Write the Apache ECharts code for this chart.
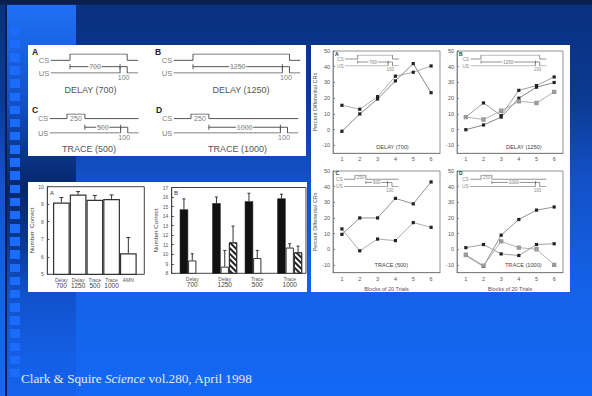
<!DOCTYPE html>
<html><head><meta charset="utf-8">
<script src="https://cdn.jsdelivr.net/npm/echarts@6/dist/echarts.min.js"></script>
<style>
html,body{margin:0;padding:0;}
body{width:592px;height:396px;overflow:hidden;position:relative;
 background:linear-gradient(to bottom,#0b1e4c 0px,#0b1e4c 4px,#0a3080 5px,#0b3a92 100px,#1350c6 175px,#1462e8 290px,#1468f4 396px);}
.abs{position:absolute;}
#col{left:7px;top:5px;width:69px;height:391px;
 background:linear-gradient(to bottom,#1f6ff4 0px,#1a64e4 40px,#1250c4 100px,#0a3586 150px,#06266a 185px,#0a3a96 240px,#1152cc 290px,#145ee4 350px,#1662ee 391px);}
#vline{left:5px;top:5px;width:1.5px;height:391px;background:#081d55;}
.sq{position:absolute;left:10px;width:10px;height:8.5px;background:#1b6cfb;}
.panel{position:absolute;background:#fff;}
#c{position:absolute;left:0;top:0;width:592px;height:396px;}
</style>
</head><body>
<div id="col" class="abs"></div>
<div id="vline" class="abs"></div>
<div id="sqs"></div>
<div class="panel" style="left:28px;top:45px;width:278px;height:111px;"></div>
<div class="panel" style="left:28px;top:181.5px;width:279px;height:110.5px;"></div>
<div class="panel" style="left:310.5px;top:45px;width:259.5px;height:247px;"></div>
<div id="c"></div>
<script>
// ================= DATA =================
// timing diagrams (ms)
const timingNames = ['DELAY (700)', 'DELAY (1250)', 'TRACE (500)', 'TRACE (1000)'];
const timingLetters = ['A', 'B', 'C', 'D'];
const csDuration = [800, 1350, 250, 250];
const usOnset = [700, 1250, 750, 1250];
const usDuration = [100, 100, 100, 100];
const intervalStart = [0, 0, 250, 250];
const intervalLabels = ['700', '1250', '500', '1000'];
const csPulseLabels = ['', '', '250', '250'];
const usPulseLabel = '100';

// bar chart A
const barACategories = ['Delay\n700', 'Delay\n1250', 'Trace\n500', 'Trace\n1000', 'AMN'];
const barAValues = [9.1, 9.55, 9.25, 9.3, 6.2];
const barAErrorTops = [9.38, 9.72, 9.5, 9.53, 7.1];

// bar chart B
const barBCategories = ['Delay\n700', 'Delay\n1250', 'Trace\n500', 'Trace\n1000'];
const barBBlack = [14.7, 15.35, 15.55, 15.85];
const barBBlackErr = [15.8, 16.0, 16.4, 16.3];
const barBWhite = [9.35, 8.7, 9.6, 10.7];
const barBWhiteErr = [10.05, 10.4, 10.4, 11.1];
const barBHatched = [null, 11.25, null, 10.2];
const barBHatchedErr = [null, 12.95, null, 10.85];

// line charts
const blocks = ['1', '2', '3', '4', '5', '6'];
const delay700A = [-1, 10, 19.5, 31, 42, 23.5];
const delay700B = [15.5, 13, 21, 34, 36.5, 40.5];
const delay1250A = [0, 3, 8, 20, 27, 30];
const delay1250B = [8, 17, 9, 25, 28, 33.5];
const delay1250C = [8, 6.5, 12, 18, 17, 24];
const trace500A = [9.5, 20, 20, 32.5, 29, 43];
const trace500B = [13, -1, 6.5, 5.5, 17, 14];
const trace1000A = [-4, -11, 9, 19, 25, 27];
const trace1000B = [1, 3, -3, -4, 3, 3.5];
const trace1000C = [-3.5, -10.5, 5, 1, 0, -10];

const caption = 'Clark & Squire {i|Science} vol.280, April 1998';

// ================= BACKGROUND SQUARES =================
(function(){
  const box = document.getElementById('sqs');
  for (let k = 0; k < 27; k++) {
    const d = document.createElement('div');
    d.className = 'sq';
    d.style.top = (26.7 + 13.16 * k) + 'px';
    box.appendChild(d);
  }
})();

// ================= CHART =================
const FONT = '"Liberation Sans", Arial, sans-serif';
const grids = [], xAxes = [], yAxes = [], series = [], texts = [];

function addGrid(g, x, y) {
  const i = grids.length;
  g.outerBoundsMode = 'none';
  grids.push(g);
  x.gridIndex = i; y.gridIndex = i;
  xAxes.push(x); yAxes.push(y);
  return i;
}

function timing(d, L) {
  const end = usOnset[d] + usDuration[d] + L.tail;
  const min = -L.lead;
  const gi = addGrid(
    {left: L.x0 - L.lead * L.k, top: L.top, width: (L.lead + end) * L.k, height: L.bottom - L.top},
    {type: 'value', min: min, max: end, show: false},
    {type: 'value', min: 0, max: L.csHigh, show: false});
  const b = L.csBase, h = L.csHigh, cd = csDuration[d], uo = usOnset[d], ud = usDuration[d];
  const ls = {color: L.color, width: L.lw};
  const common = {xAxisIndex: gi, yAxisIndex: gi, silent: true, animation: false};
  series.push(Object.assign({type: 'line', symbol: 'none', lineStyle: ls,
    data: [[min, b], [0, b], [0, h], [cd, h], [cd, b], [end, b]]}, common));
  series.push(Object.assign({type: 'line', symbol: 'none', lineStyle: ls,
    data: [[min, 0], [uo, 0], [uo, 1], [uo + ud, 1], [uo + ud, 0], [end, 0]]}, common));
  series.push(Object.assign({type: 'line', symbol: 'rect', symbolSize: [L.lw, L.tick],
    itemStyle: {color: L.color}, lineStyle: ls,
    data: [[intervalStart[d], 1], [uo, 1]]}, common));
  const base = {color: L.text, fontSize: L.font, fontFamily: FONT};
  const lab = [
    {value: [min, b], label: Object.assign({}, base, {formatter: 'CS', position: 'left', distance: 1.5, fontSize: L.font2})},
    {value: [min, 0], label: Object.assign({}, base, {formatter: 'US', position: 'left', distance: 1.5, fontSize: L.font2})},
    {value: [(intervalStart[d] + uo) / 2, 1], label: Object.assign({}, base, {formatter: intervalLabels[d], position: 'inside',
      backgroundColor: '#fff', padding: [0, 1]})},
    {value: [uo + ud / 2, 0], label: Object.assign({}, base, {formatter: usPulseLabel, position: 'bottom', distance: 1})}
  ];
  if (csPulseLabels[d]) lab.push({value: [cd / 2, (b + h) / 2 - L.pulseShift],
    label: Object.assign({}, base, {formatter: csPulseLabels[d], position: 'inside'})});
  series.push(Object.assign({type: 'scatter', symbolSize: 0, z: 5,
    itemStyle: {color: L.text},
    label: {show: true, fontSize: L.font, color: L.text, fontFamily: FONT},
    data: lab}, common));
}

// top-left panel diagrams
const tlBase = {k: 0.0715, tail: 150, lw: 1, color: '#555', text: '#555', font: 7, font2: 7.5, tick: 5, pulseShift: 0.35};
timing(0, Object.assign({}, tlBase, {x0: 70, lead: 270, top: 54, bottom: 73, csBase: 2, csHigh: 3}));
timing(1, Object.assign({}, tlBase, {x0: 193, lead: 270, top: 54, bottom: 73, csBase: 2, csHigh: 3}));
timing(2, Object.assign({}, tlBase, {x0: 67, lead: 240, top: 114, bottom: 133, csBase: 2.5, csHigh: 3.3}));
timing(3, Object.assign({}, tlBase, {x0: 191, lead: 240, top: 114, bottom: 133, csBase: 2.5, csHigh: 3.3}));

// ---------- line charts ----------
function lineChart(L, list, yName, xName) {
  const gi = addGrid(
    {left: L.left, top: L.top, width: L.width, height: L.height, show: true, borderColor: '#777', borderWidth: 0.8, backgroundColor: 'transparent'},
    {type: 'category', data: blocks, boundaryGap: true,
     axisLine: {onZero: false, lineStyle: {color: '#777', width: 0.8}},
     axisTick: {alignWithLabel: true, inside: true, length: 2, lineStyle: {color: '#777', width: 0.8}},
     axisLabel: {fontSize: 5.5, color: '#555', margin: 3, fontFamily: FONT},
     name: xName || '', nameLocation: 'middle', nameGap: 13.5,
     nameTextStyle: {fontSize: 5.5, color: '#555', fontFamily: FONT}},
    {type: 'value', min: -15, max: 50, splitNumber: 6, splitLine: {show: false},
     axisLine: {show: true, onZero: false, lineStyle: {color: '#777', width: 0.8}},
     axisTick: {show: true, inside: true, length: 2, lineStyle: {color: '#777', width: 0.8}},
     axisLabel: {fontSize: 5.5, color: '#555', margin: 3, showMinLabel: false, fontFamily: FONT},
     name: yName || '', nameLocation: 'middle', nameGap: 15.5, nameRotate: 90,
     nameTextStyle: {fontSize: 5.5, color: '#555', fontFamily: FONT}});
  list.forEach(s => series.push({type: 'line', xAxisIndex: gi, yAxisIndex: gi, data: s.data,
    symbol: s.light ? 'emptyRect' : 'rect', symbolSize: s.light ? 2.4 : 3.2, animation: false, silent: true,
    lineStyle: {color: s.light ? '#a0a0a0' : s.line, width: 0.8},
    itemStyle: {color: s.light ? '#999' : '#222', borderColor: s.light ? '#999' : '#222', borderWidth: s.light ? 0.6 : 0}}));
}
lineChart({left: 333, top: 51, width: 107, height: 102.3},
  [{data: delay700A, line: '#666'}, {data: delay700B, line: '#999'}], 'Percent Differential CRs');
lineChart({left: 457, top: 51, width: 106, height: 102.3},
  [{data: delay1250A, line: '#666'}, {data: delay1250B, line: '#888'}, {data: delay1250C, light: true}]);
lineChart({left: 333, top: 171, width: 107, height: 101.7},
  [{data: trace500A, line: '#777'}, {data: trace500B, line: '#999'}], 'Percent Differential CRs', 'Blocks of 20 Trials');
lineChart({left: 457, top: 171, width: 106, height: 101.7},
  [{data: trace1000A, line: '#777'}, {data: trace1000B, line: '#888'}, {data: trace1000C, light: true}], '', 'Blocks of 20 Trials');

// inset diagrams in line charts
const inBase = {k: 0.0435, tail: 150, lw: 0.7, color: '#666', text: '#666', font: 4.5, font2: 4.8, tick: 3, csBase: 1.75, csHigh: 2.75, pulseShift: 0.1};
timing(0, Object.assign({}, inBase, {x0: 357.7, lead: 290, top: 55, bottom: 66}));
timing(1, Object.assign({}, inBase, {x0: 481, lead: 240, top: 55, bottom: 66}));
timing(2, Object.assign({}, inBase, {x0: 355, lead: 250, top: 175, bottom: 186.7}));
timing(3, Object.assign({}, inBase, {x0: 481, lead: 250, top: 175, bottom: 186.7}));

// ---------- bar charts ----------
function labelFmt(v) {
  const p = v.split('\n');
  return p.length > 1 ? '{a|' + p[0] + '}\n{b|' + p[1] + '}' : '{a|' + p[0] + '}';
}
const barRich = {a: {fontSize: 5, color: '#555', lineHeight: 5.5, fontFamily: FONT}, b: {fontSize: 6.5, color: '#444', lineHeight: 7, fontFamily: FONT}};

function frame(L, min, max, name, gap) {
  addGrid({left: L.left, top: L.top, width: L.width, height: L.height, show: true, borderColor: '#444', borderWidth: 1, backgroundColor: 'transparent'},
    {type: 'value', min: 0, max: 1, show: false},
    {type: 'value', min: min, max: max, interval: 1, splitLine: {show: false},
     axisLine: {show: true, lineStyle: {color: '#444', width: 1}},
     axisTick: {show: true, inside: true, length: 2, lineStyle: {color: '#444'}},
     axisLabel: {fontSize: 5, color: '#555', margin: 3.5, fontFamily: FONT},
     name: name, nameLocation: 'middle', nameGap: gap, nameRotate: 90,
     nameTextStyle: {fontSize: 6.2, color: '#444', fontFamily: FONT}});
}
function errSeries(gi, vals, tops, offset, cap) {
  const data = [];
  vals.forEach((v, i) => { if (v != null) data.push([i, v, tops[i]]); });
  series.push({type: 'custom', xAxisIndex: gi, yAxisIndex: gi, data: data, silent: true, animation: false, z: 4,
    renderItem: function (params, api) {
      const p0 = api.coord([api.value(0), api.value(1)]);
      const p1 = api.coord([api.value(0), api.value(2)]);
      const cx = p0[0] + offset;
      return {type: 'group', children: [
        {type: 'line', shape: {x1: cx, y1: p0[1], x2: cx, y2: p1[1]}, style: {stroke: '#333', lineWidth: 1}},
        {type: 'line', shape: {x1: cx - cap, y1: p1[1], x2: cx + cap, y2: p1[1]}, style: {stroke: '#333', lineWidth: 1}}
      ]};
    }});
}

// chart A
frame({left: 47.3, top: 186.7, width: 97, height: 87.6}, 5, 10, 'Number  Correct', 12.5);
const gBA = addGrid({left: 53, top: 186.7, width: 83.7, height: 87.6},
  {type: 'category', data: barACategories, axisLine: {show: false}, axisTick: {show: false},
   axisLabel: {margin: 2.5, interval: 0, formatter: labelFmt, rich: barRich}},
  {type: 'value', min: 5, max: 10, show: false});
series.push({type: 'bar', xAxisIndex: gBA, yAxisIndex: gBA, data: barAValues, barCategoryGap: '0%', clip: true,
  silent: true, animation: false, itemStyle: {color: '#fff', borderColor: '#333', borderWidth: 1.2}});
errSeries(gBA, barAValues, barAErrorTops, 0, 2);

// chart B
frame({left: 171.7, top: 187.5, width: 134.3, height: 85.8}, 8, 17, 'Number Correct', 13);
const gBB = addGrid({left: 176, top: 187.5, width: 130, height: 85.8},
  {type: 'category', data: barBCategories, axisLine: {show: false}, axisTick: {show: false},
   axisLabel: {margin: 2.5, interval: 0, formatter: labelFmt, rich: barRich}},
  {type: 'value', min: 8, max: 17, show: false});
const BW = 8.3;
series.push({type: 'bar', xAxisIndex: gBB, yAxisIndex: gBB, data: barBBlack, barWidth: BW, barGap: '0%', clip: true,
  silent: true, animation: false, itemStyle: {color: '#111', borderColor: '#111', borderWidth: 0.5}});
series.push({type: 'bar', xAxisIndex: gBB, yAxisIndex: gBB, data: barBWhite, barWidth: BW, barGap: '0%', clip: true,
  silent: true, animation: false, itemStyle: {color: '#fff', borderColor: '#333', borderWidth: 1}});
series.push({type: 'bar', xAxisIndex: gBB, yAxisIndex: gBB, data: barBHatched, barWidth: BW, barGap: '0%', clip: true,
  silent: true, animation: false, itemStyle: {color: '#fff', borderColor: '#333', borderWidth: 1,
    decal: {symbol: 'rect', symbolSize: 1, color: '#222', dashArrayX: [1, 0], dashArrayY: [1.4, 1.8], rotation: Math.PI / 4}}});
errSeries(gBB, barBBlack, barBBlackErr, -BW, 1.5);
errSeries(gBB, barBWhite, barBWhiteErr, 0, 1.5);
errSeries(gBB, barBHatched, barBHatchedErr, BW, 1.5);

// ---------- free texts ----------
function txt(t, x, y, size, color, align, weight) {
  texts.push({type: 'text', x: x, y: y, z: 10, silent: true,
    style: {text: t, fontSize: size, fill: color, fontFamily: FONT, align: align || 'center', verticalAlign: 'middle', fontWeight: weight || 'normal'}});
}
// top-left panel
[[32, 52], [155, 52], [32, 110], [156, 110]].forEach((p, i) => txt(timingLetters[i], p[0], p[1], 8.5, '#222', 'left', 'bold'));
[[90.5, 90], [241, 90], [89, 149], [237.5, 149]].forEach((p, i) => txt(timingNames[i], p[0], p[1], 9, '#555'));
// bar charts
txt('A', 50, 193, 6, '#333', 'left');
txt('B', 174, 193, 6, '#333', 'left');
// line charts
[[335, 53.5], [459, 53.5], [335.5, 172.8], [459, 172.8]].forEach((p, i) => txt(timingLetters[i], p[0], p[1], 5, '#333', 'left', 'bold'));
[[392.5, 146.7], [523.8, 146.7], [391.3, 265], [523.3, 265]].forEach((p, i) => txt(timingNames[i], p[0], p[1], 5.6, '#444'));

const chart = echarts.init(document.getElementById('c'), null, {renderer: 'svg', width: 592, height: 396});
chart.setOption({
  animation: false,
  backgroundColor: 'transparent',
  title: {text: caption, left: 21, top: 372, padding: 0,
    textStyle: {fontFamily: '"Liberation Serif", "Times New Roman", serif', fontSize: 13.2, fontWeight: 'normal', color: '#e6eaf4',
      rich: {i: {fontFamily: '"Liberation Serif", "Times New Roman", serif', fontSize: 13.2, fontStyle: 'italic', color: '#e6eaf4'}}}},
  grid: grids, xAxis: xAxes, yAxis: yAxes, series: series,
  graphic: {elements: texts}
});
</script>
</body></html>
